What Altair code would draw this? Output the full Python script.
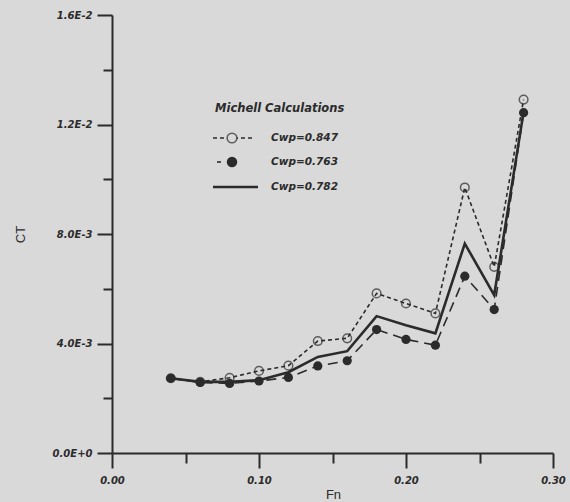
import altair as alt
import pandas as pd

# ---- data ----
fn = [0.04, 0.06, 0.08, 0.10, 0.12, 0.14, 0.16, 0.18, 0.20, 0.22, 0.24, 0.26, 0.28]
ct_847 = [2.73e-3, 2.60e-3, 2.75e-3, 3.00e-3, 3.19e-3, 4.09e-3, 4.19e-3, 5.83e-3, 5.46e-3, 5.10e-3, 9.70e-3, 6.80e-3, 12.91e-3]
ct_763 = [2.73e-3, 2.58e-3, 2.54e-3, 2.63e-3, 2.76e-3, 3.18e-3, 3.37e-3, 4.51e-3, 4.15e-3, 3.94e-3, 6.46e-3, 5.24e-3, 12.43e-3]
ct_782 = [2.73e-3, 2.60e-3, 2.60e-3, 2.66e-3, 2.95e-3, 3.51e-3, 3.72e-3, 5.00e-3, 4.67e-3, 4.37e-3, 7.65e-3, 5.77e-3, 12.46e-3]
x_ticks = [0.0, 0.05, 0.10, 0.15, 0.20, 0.25, 0.30]
y_ticks = [0.0, 0.002, 0.004, 0.006, 0.008, 0.010, 0.012, 0.014, 0.016]
legend_title = "Michell Calculations"
legend_labels = ["Cwp=0.847", "Cwp=0.763", "Cwp=0.782"]

INK = "#2b2b2b"
BG = "#d9d9d9"

df847 = pd.DataFrame({"Fn": fn, "CT": ct_847})
df763 = pd.DataFrame({"Fn": fn, "CT": ct_763})
df782 = pd.DataFrame({"Fn": fn, "CT": ct_782})
dummy = pd.DataFrame({"a": [0]})

x_major = "abs(datum.value*10 - round(datum.value*10)) < 0.001"
y_major = "abs(datum.value*250 - round(datum.value*250)) < 0.001"

x_axis = alt.Axis(
    values=x_ticks,
    tickSize={"condition": {"test": x_major, "value": 15}, "value": 10},
    labelExpr=f"({x_major}) ? format(datum.value, '.2f') : ''",
    domainColor=INK, domainWidth=2, tickColor=INK, tickWidth=2,
    labelFont="DejaVu Sans", labelFontWeight="bold", labelFontStyle="italic",
    labelFontSize=10, labelColor=INK, labelPadding=7, labelFlush=False,
    grid=False, title="Fn", titleFont="Liberation Sans", titleFontWeight="normal",
    titleFontSize=13, titleColor=INK, titleX=221, titleY=35, titleBaseline="top",
)
y_axis = alt.Axis(
    values=y_ticks,
    tickSize={"condition": {"test": y_major, "value": 15}, "value": 9},
    labelExpr=(f"({y_major}) ? (datum.value == 0 ? '0.0E+0' : (datum.value < 0.0099 ? "
               "format(datum.value*1000, '.1f') + 'E-3' : format(datum.value*100, '.1f') + 'E-2')) : ''"),
    domainColor=INK, domainWidth=2, tickColor=INK, tickWidth=2,
    labelFont="DejaVu Sans", labelFontWeight="bold", labelFontStyle="italic",
    labelFontSize=10, labelColor=INK, labelPadding=5, labelFlush=False,
    grid=False, title="CT", titleFont="Liberation Sans", titleFontWeight="normal",
    titleFontSize=13, titleColor=INK, titleX=-92, titleY=219, titleAngle=-90,
    titleBaseline="middle", titleAlign="center",
)

X = alt.X("Fn:Q", scale=alt.Scale(domain=[0, 0.3], nice=False, zero=False), axis=x_axis)
Y = alt.Y("CT:Q", scale=alt.Scale(domain=[0, 0.016], nice=False, zero=False), axis=y_axis)

line847 = alt.Chart(df847).mark_line(color=INK, strokeWidth=1.6, strokeDash=[4, 3]).encode(x=X, y=Y)
line763 = alt.Chart(df763).mark_line(color=INK, strokeWidth=1.6, strokeDash=[10, 6]).encode(x=X, y=Y)
line782 = alt.Chart(df782).mark_line(color=INK, strokeWidth=2.6).encode(x=X, y=Y)
pts847 = alt.Chart(df847).mark_point(shape="circle", filled=False, color=INK, size=75, strokeWidth=1.5).encode(x=X, y=Y)
pts763 = alt.Chart(df763).mark_point(shape="circle", filled=True, color=INK, size=85, opacity=1).encode(x=X, y=Y)

# ---- hand-made legend (plot-area pixel coordinates) ----
def txt(label, x, y, size, **kw):
    return alt.Chart(dummy).mark_text(
        align="left", baseline="middle", font="DejaVu Sans", fontWeight="bold",
        fontStyle="italic", fontSize=size, color=INK, **kw
    ).encode(x=alt.value(x), y=alt.value(y), text=alt.value(label))

leg = [
    txt(legend_title, 103, 94, 11.5),
    txt(legend_labels[0], 159, 123, 10.5),
    txt(legend_labels[1], 159, 147, 10.5),
    txt(legend_labels[2], 159, 172, 10.5),
    alt.Chart(dummy).mark_rule(color=INK, strokeWidth=1.6, strokeDash=[4, 3]).encode(
        x=alt.value(101), x2=alt.value(143), y=alt.value(123)),
    alt.Chart(dummy).mark_point(shape="circle", filled=True, color=BG, size=95, opacity=1).encode(
        x=alt.value(120), y=alt.value(123)),
    alt.Chart(dummy).mark_point(shape="circle", filled=False, color=INK, size=95, strokeWidth=1.5).encode(
        x=alt.value(120), y=alt.value(123)),
    alt.Chart(dummy).mark_rule(color=INK, strokeWidth=1.6, strokeDash=[4, 8]).encode(
        x=alt.value(105), x2=alt.value(111), y=alt.value(147)),
    alt.Chart(dummy).mark_point(shape="circle", filled=True, color=INK, size=110, opacity=1).encode(
        x=alt.value(120), y=alt.value(147)),
    alt.Chart(dummy).mark_rule(color=INK, strokeWidth=2.4).encode(
        x=alt.value(101), x2=alt.value(146), y=alt.value(172)),
]

chart = alt.layer(
    line847, line763, line782, pts847, pts763, *leg
).properties(
    width=441, height=438,
    autosize=alt.AutoSizeParams(type="none"),
    padding={"left": 112, "top": 15, "right": 17, "bottom": 49},
    background=BG,
).configure_view(stroke=None)

chart.save("out.html", embed_options={"renderer": "svg", "actions": False})
